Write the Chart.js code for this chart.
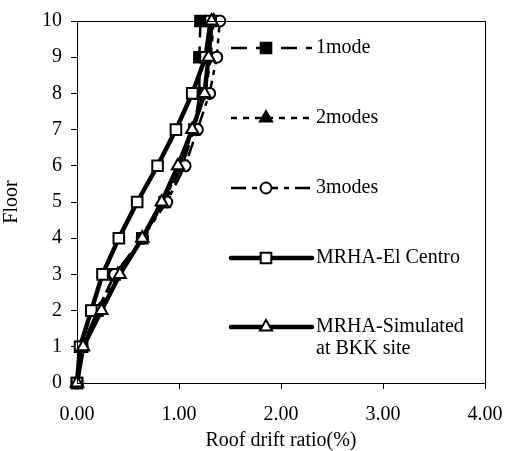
<!DOCTYPE html>
<html>
<head>
<meta charset="utf-8">
<script src="https://cdn.jsdelivr.net/npm/chart.js@4.4.1/dist/chart.umd.min.js"></script>
<style>
  html, body { margin: 0; padding: 0; background: #fff; }
  #wrap { width: 506px; height: 451px; }
</style>
</head>
<body>
<div id="wrap"><canvas id="driftChart" width="506" height="451"></canvas></div>
<script>
// storey levels and drift ratio (%) per analysis
const floors = [0, 1, 2, 3, 4, 5, 6, 7, 8, 9, 10];
const oneMode = [0, 0.05, 0.20, 0.37, 0.64, 0.86, 1.03, 1.15, 1.20, 1.20, 1.21];
const twoModes = [0, 0.05, 0.22, 0.40, 0.64, 0.85, 1.01, 1.14, 1.26, 1.31, 1.34];
const threeModes = [0, 0.05, 0.20, 0.37, 0.64, 0.88, 1.06, 1.18, 1.30, 1.37, 1.40];
const elCentro = [0, 0.03, 0.14, 0.25, 0.41, 0.59, 0.79, 0.97, 1.13, 1.26, 1.31];
const simulated = [0, 0.06, 0.24, 0.42, 0.64, 0.83, 0.99, 1.13, 1.25, 1.29, 1.32];
const xTicks = [0, 1, 2, 3, 4];
const seriesNames = ['1mode', '2modes', '3modes', 'MRHA-El Centro', ['MRHA-Simulated', 'at BKK site']];

const FONT = "'Liberation Serif', 'Times New Roman', serif";

function pts(vals) {
    return vals.map((v, i) => ({ x: v, y: floors[i] }));
}

function series(name, vals, opts) {
    return Object.assign({
        label: name,
        data: pts(vals),
        showLine: true,
        borderColor: '#000',
        pointBorderColor: '#000',
        pointBorderWidth: 2,
        clip: false
    }, opts);
}

const datasets = [
    series(seriesNames[0], oneMode, { borderWidth: 2.5, borderDash: [16, 9], pointStyle: 'rect', pointRadius: 7.5, pointBackgroundColor: '#000', order: 4 }),
    series(seriesNames[1], twoModes, { borderWidth: 2.5, borderDash: [6, 6], pointStyle: 'triangle', pointRadius: 7, pointBackgroundColor: '#000', order: 3 }),
    series(seriesNames[2], threeModes, { borderWidth: 2.5, borderDash: [15, 6, 5, 6], pointStyle: 'circle', pointRadius: 5.5, pointBackgroundColor: '#fff', order: 2 }),
    series(seriesNames[3], elCentro, { borderWidth: 4.5, pointStyle: 'rect', pointRadius: 7.5, pointBackgroundColor: '#fff', order: 1 }),
    series(seriesNames[4], simulated, { borderWidth: 4.5, pointStyle: 'triangle', pointRadius: 7, pointBackgroundColor: '#fff', order: 0 })
];

// box around plot
const framePlugin = {
    id: 'frame',
    afterDraw(chart) {
        const { ctx, chartArea: a } = chart;
        ctx.save();
        ctx.strokeStyle = '#000';
        ctx.lineWidth = 1;
        ctx.strokeRect(a.left + 0.5, a.top + 0.5, a.right - a.left, a.bottom - a.top);
        ctx.restore();
    }
};

// legend sits inside the plot, one row per series
const legendRows = [48, 118, 188, 258, 327];
const insideLegend = {
    id: 'insideLegend',
    afterDraw(chart) {
        const ctx = chart.ctx;
        ctx.save();
        chart.data.datasets.forEach((ds, i) => {
            const y = legendRows[i];
            const x0 = 231, x1 = 312, mx = 266;
            ctx.strokeStyle = '#000';
            ctx.lineWidth = ds.borderWidth;
            ctx.setLineDash(ds.borderDash || []);
            ctx.lineCap = ds.borderDash ? 'butt' : 'round';
            ctx.beginPath();
            ctx.moveTo(x0, y);
            ctx.lineTo(x1, y);
            ctx.stroke();
            ctx.setLineDash([]);
            ctx.fillStyle = ds.pointBackgroundColor;
            ctx.strokeStyle = '#000';
            ctx.lineWidth = ds.pointBorderWidth;
            Chart.helpers.drawPoint(ctx, { pointStyle: ds.pointStyle, radius: ds.pointRadius, rotation: 0, borderWidth: ds.pointBorderWidth }, mx, y);
            ctx.fillStyle = '#000';
            ctx.font = '20px ' + FONT;
            ctx.textBaseline = 'middle';
            ctx.textAlign = 'left';
            const lines = Array.isArray(ds.label) ? ds.label : [ds.label];
            lines.forEach((t, k) => ctx.fillText(t, 316, y + k * 22));
        });
        ctx.restore();
    }
};

new Chart(document.getElementById('driftChart'), {
    type: 'scatter',
    data: { datasets },
    options: {
        responsive: false,
        animation: false,
        layout: { padding: { top: 21, right: 21, left: 0, bottom: 0 } },
        plugins: { legend: { display: false }, tooltip: { enabled: false } },
        scales: {
            x: {
                type: 'linear',
                min: 0, max: 4,
                afterBuildTicks: (s) => { s.ticks = xTicks.map(v => ({ value: v })); },
                afterFit: (s) => { s.height = 68; s.paddingLeft = 0; s.paddingRight = 0; },
                grid: { drawOnChartArea: false, drawTicks: true, tickLength: 6, color: '#000' },
                border: { display: true, color: '#000', width: 1 },
                ticks: { color: '#000', font: { family: FONT, size: 20 }, padding: 14, maxRotation: 0,
                         callback: (v) => v.toFixed(2) },
                title: { display: true, text: 'Roof drift ratio(%)', color: '#000', font: { family: FONT, size: 20 }, padding: { top: 0, bottom: -2 } }
            },
            y: {
                type: 'linear',
                min: 0, max: 10,
                ticks: { stepSize: 1, color: '#000', font: { family: FONT, size: 20 }, padding: 9 },
                afterFit: (s) => { s.width = 77; s.paddingTop = 0; s.paddingBottom = 0; },
                grid: { drawOnChartArea: false, drawTicks: true, tickLength: 6, color: '#000' },
                border: { display: true, color: '#000', width: 1 },
                title: { display: true, text: 'Floor', color: '#000', font: { family: FONT, size: 20 }, padding: 0 }
            }
        }
    },
    plugins: [framePlugin, insideLegend]
});
</script>
</body>
</html>
